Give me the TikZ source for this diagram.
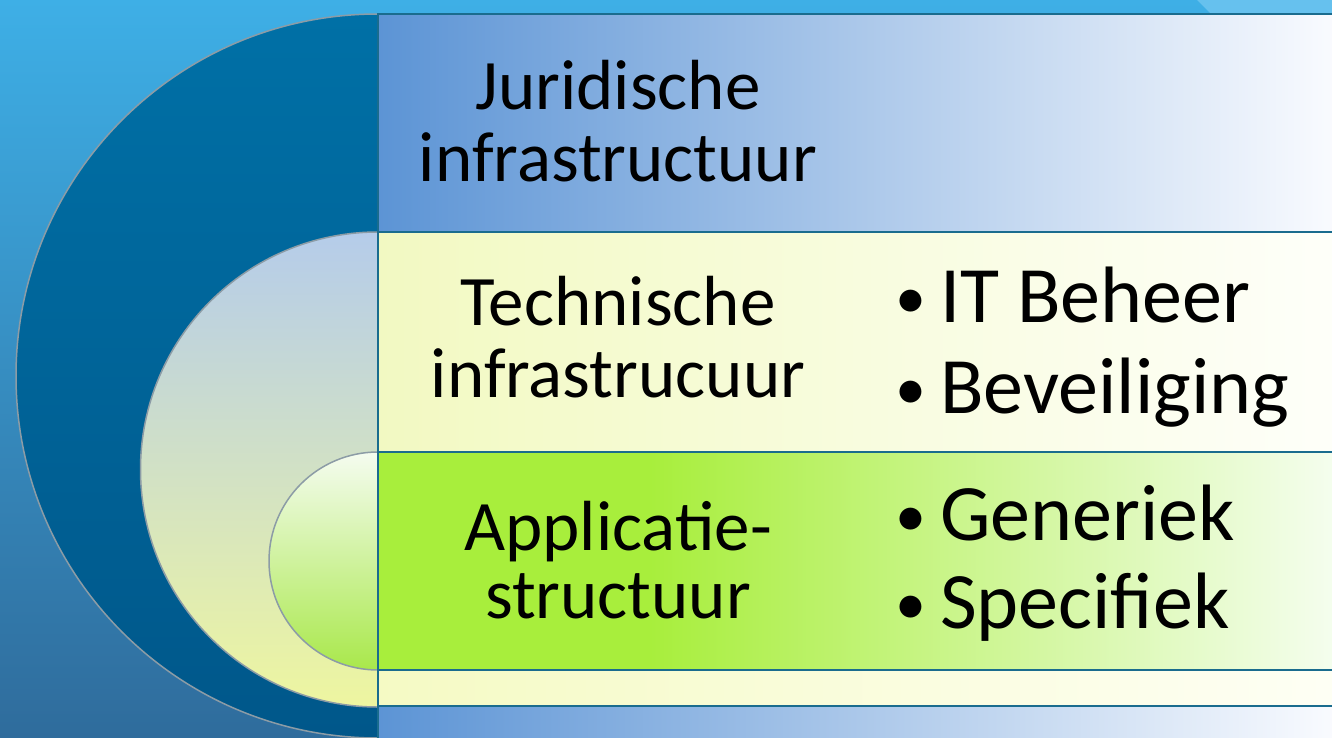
\documentclass[tikz,border=0pt]{standalone}
\usepackage{fontspec}
\setmainfont{Carlito}
\definecolor{bgtop}{HTML}{3EAFE6}
\definecolor{bgbot}{HTML}{2F6C9C}
\definecolor{bglight}{HTML}{66C1EE}
\definecolor{outtop}{HTML}{0070A6}
\definecolor{outbot}{HTML}{00578A}
\definecolor{midtop}{HTML}{B5CCEA}
\definecolor{midbot}{HTML}{EEF6A0}
\definecolor{intop}{HTML}{F5FCF0}
\definecolor{inbot}{HTML}{A9E84B}
\definecolor{rim}{HTML}{8C9CA6}
\definecolor{edge}{HTML}{1A6C8E}
\definecolor{jurL}{HTML}{5C94D5}
\definecolor{jurM}{HTML}{A9C5EA}
\definecolor{jurR}{HTML}{FBFCFF}
\definecolor{tecL}{HTML}{F2F9C2}
\definecolor{tecM}{HTML}{F8FBDD}
\definecolor{tecR}{HTML}{FEFFFA}
\definecolor{appL}{HTML}{A8EE3C}
\definecolor{appM}{HTML}{D9F6B2}
\definecolor{appR}{HTML}{F6FEF1}
\definecolor{strL}{HTML}{F5FAC4}
\definecolor{strM}{HTML}{FAFCDD}
\definecolor{strR}{HTML}{FEFFF5}
\tikzset{
  lbl/.style={inner sep=0pt, anchor=base, font=\fontsize{71}{73}\selectfont},
  item/.style={inner sep=0pt, anchor=base west, font=\fontsize{80}{82}\selectfont},
  band/.style={draw=edge, line width=2.5},
}
\newcommand{\itembullet}{\makebox[45pt][l]{\fontsize{62}{62}\selectfont\raisebox{4pt}{\textbullet}}}
\begin{document}
\begin{tikzpicture}[x=1pt, y=-1pt]
  \useasboundingbox (0,0) rectangle (1332,738);
  % background
  \shade[top color=bgtop, bottom color=bgbot] (0,0) rectangle (1332,738);
  \fill[bglight] (1197,0) -- (1332,0) -- (1332,14) -- (1211,14) -- cycle;
  % half circles
  \foreach \cy/\r/\ctop/\cbot in {376/362/outtop/outbot, 469.5/237.5/midtop/midbot, 561/109/intop/inbot} {
    \shade[top color=\ctop, bottom color=\cbot, draw=rim, line width=1.5]
      (378,{\cy-\r}) arc[start angle=270, end angle=90, radius=\r] -- cycle;
  }
  % bands
  \foreach \ya/\yb/\cl/\cm/\cr in {14/232/jurL/jurM/jurR, 232/452/tecL/tecM/tecR, 670/706/strL/strM/strR, 706/760/jurL/jurM/jurR} {
    \shade[band, left color=\cl, middle color=\cm, right color=\cr] (378,\ya) rectangle (1345,\yb);
  }
  \fill[appL] (378,452) rectangle (651,670);
  \shade[left color=appL, middle color=appM, right color=appR] (650,452) rectangle (1345,670);
  \draw[band] (378,452) rectangle (1345,670);
  % layer labels
  \foreach \t/\yy [count=\i] in {Juridische/110, infrastructuur/182, Technische/325, infrastrucuur/397, Applicatie-/550, structuur/618} {
    \node[lbl] (lbl\i) at (618,\yy) {\t};
  }
  % bullet items
  \foreach \t/\yy [count=\i] in {IT Beheer/322, Beveiliging/413, Generiek/540, Specifiek/628} {
    \node[item] (item\i) at (895,\yy) {\itembullet\t};
  }
\end{tikzpicture}
\end{document}
